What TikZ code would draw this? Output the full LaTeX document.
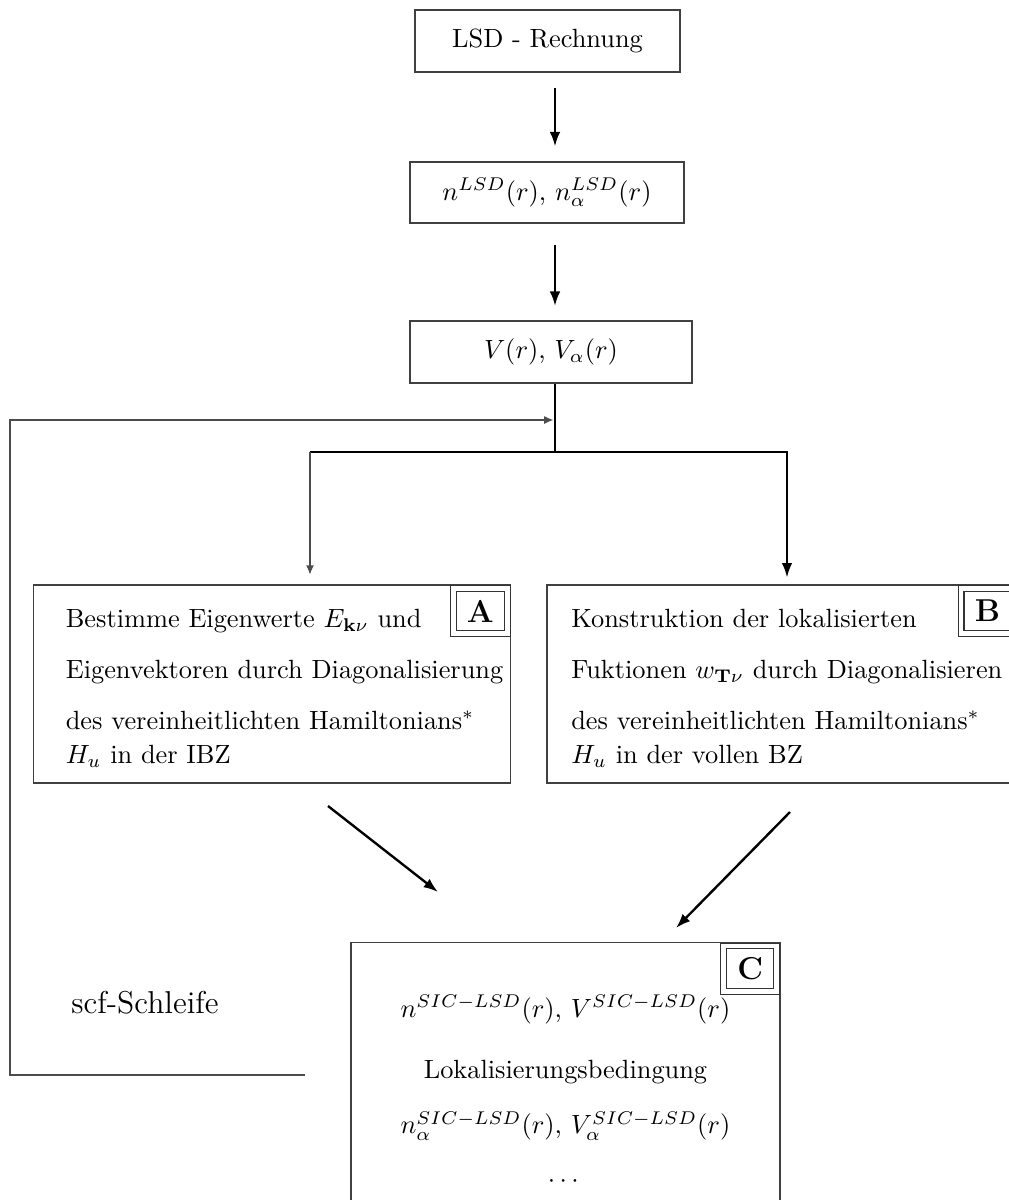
\documentclass[tikz,border=0pt]{standalone}
\usepackage{amsmath}
\usepackage{amssymb}
\usepackage{tikz}
\usetikzlibrary{arrows.meta}

\tikzset{
    kasten/.style={draw=black!75, line width=0.5pt},
    pfeil/.style={-{Latex[length=5.5pt,width=4pt]}, line width=0.9pt},
    duennpfeil/.style={-{Latex[length=3.5pt,width=3pt]}, line width=0.5pt, draw=black!70},
    marke/.style={draw=black!80, line width=0.4pt, double, double distance=1.8pt,
        inner xsep=5.2pt, inner ysep=4.4pt, text depth=0pt, anchor=north east,
        font=\large\bfseries},
}

\begin{document}
\begin{tikzpicture}[x=0.013333cm, y=-0.013333cm]
    % Fix the page size
    \useasboundingbox (0,0) rectangle (1008,1200);

    % Draw the upper column
    \node[kasten, minimum width=3.53cm, minimum height=0.83cm] (lsd) at (547.5,41) {LSD - Rechnung};
    \node[kasten, minimum width=3.65cm, minimum height=0.81cm] (dichte) at (547,192.5) {$n^{LSD}(r)$, $n_\alpha^{LSD}(r)$};
    \node[kasten, minimum width=3.76cm, minimum height=0.83cm] (pot) at (551,352) {$V(r)$, $V_\alpha(r)$};

    % Branch point and loop corners
    \coordinate (split) at (555,452);
    \coordinate (merge) at (555,420);
    \coordinate (astA) at (310,452);
    \coordinate (astB) at (787,452);
    \coordinate (loopend) at (305,1075);
    \coordinate (loopcorner) at (10,420);

    % Draw the boxes A and B
    \node[kasten, minimum width=6.37cm, minimum height=2.64cm] (A) at (272,684) {};
    \node[anchor=west, align=left] (Atext) at ([xshift=0.32cm,yshift=-0.06cm]A.west)
        {Bestimme Eigenwerte $E_{\mathbf{k}\nu}$ und\\[7.3pt]
         Eigenvektoren durch Diagonalisierung\\[7.3pt]
         des vereinheitlichten Hamiltonians$^*$\\[1.2pt]
         $H_u$ in der IBZ};
    \node[marke] (Amarke) at ([xshift=-1.3pt,yshift=-1.3pt]A.north east) {A};

    \node[kasten, minimum width=6.27cm, minimum height=2.64cm] (B) at (782,684) {};
    \node[anchor=west, align=left] (Btext) at ([xshift=0.21cm,yshift=-0.06cm]B.west)
        {Konstruktion der lokalisierten\\[7.3pt]
         Fuktionen $w_{\mathbf{T}\nu}$ durch Diagonalisieren\\[7.3pt]
         des vereinheitlichten Hamiltonians$^*$\\[1.2pt]
         $H_u$ in der vollen BZ};
    \node[marke] (Bmarke) at ([xshift=-1.3pt,yshift=-1.3pt]B.north east) {B};

    % Draw the box C
    \node[kasten, anchor=north, minimum width=5.72cm, minimum height=3.97cm, align=center] (C) at (565.5,942)
        {$n^{SIC-LSD}(r)$, $V^{SIC-LSD}(r)$\\[11.2pt]
         Lokalisierungsbedingung\\[9.1pt]
         $n_\alpha^{SIC-LSD}(r)$, $V_\alpha^{SIC-LSD}(r)$\\[8.5pt]
         $\cdots$};
    \node[marke] (Cmarke) at ([xshift=-1.3pt,yshift=-1.3pt]C.north east) {C};

    \node[font=\large] (scf) at (145,1003) {scf-Schleife};

    % Draw the arrows
    \draw[pfeil, shorten <=0.2cm, shorten >=0.2cm] (lsd.south -| split) -- (dichte.north -| split);
    \draw[pfeil, shorten <=0.29cm, shorten >=0.19cm] (dichte.south -| split) -- (pot.north -| split);
    \draw[line width=0.9pt] (pot.south -| split) -- (split);
    \draw[line width=0.9pt] (split) -- (astA);
    \draw[duennpfeil, shorten >=0.13cm] (astA) -- (astA |- A.north);
    \draw[pfeil, shorten >=0.09cm] (split) -- (astB) -- (astB |- B.north);

    % Diagonal arrows into C
    \coordinate (Aaus) at (328,806);
    \coordinate (Cein) at (438,892);
    \coordinate (Baus) at (790,812);
    \coordinate (Cein2) at (676,928);
    \draw[pfeil] (Aaus) -- (Cein);
    \draw[pfeil] (Baus) -- (Cein2);

    % scf loop back to the potential
    \draw[duennpfeil, shorten >=0.6pt] (loopend) -| (loopcorner) -- (merge);

\end{tikzpicture}
\end{document}
